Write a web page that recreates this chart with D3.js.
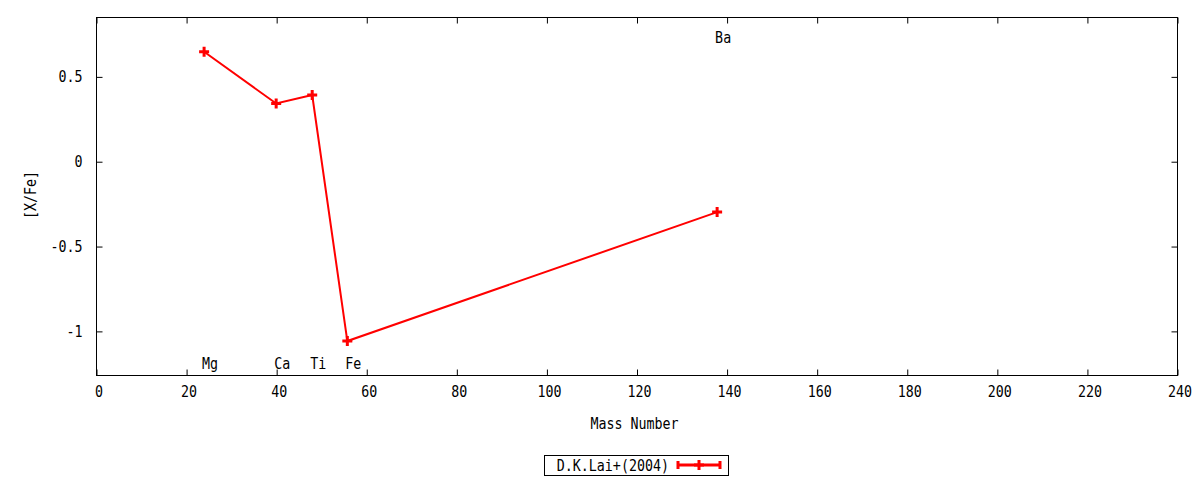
<!DOCTYPE html>
<html><head><meta charset="utf-8">
<script src="https://cdn.jsdelivr.net/npm/d3@7/dist/d3.min.js"></script>
<style>body{margin:0;background:#fff}svg{display:block}text{font-family:"DejaVu Sans Mono",monospace;font-size:15.5px;fill:#000}</style>
</head><body><svg id="c" width="1200" height="480"></svg>
<script>
const elements = ["Mg","Ca","Ti","Fe","Ba"];
const massNumbers = [24.0, 40.0, 48.0, 55.8, 137.9];
const xFe = [0.645, 0.34, 0.39, -1.06, -0.30];
const labelY = [-1.19, -1.19, -1.19, -1.19, 0.73];
const xTicks = [0,20,40,60,80,100,120,140,160,180,200,220,240];
const yTicks = [-1, -0.5, 0, 0.5];
const seriesName = "D.K.Lai+(2004)";

const svg = d3.select("#c");
const L=96,R=1177,T=17,B=375;
const x = d3.scaleLinear().domain([0,240]).range([L,R]);
const y = d3.scaleLinear().domain([-1.26,0.85]).range([B,T]);
const red="#ff0000";

svg.append("rect").attr("x",L+0.5).attr("y",T+0.5).attr("width",R-L).attr("height",B-T)
  .attr("fill","none").attr("stroke","#000").attr("stroke-width",1);

const fmt = d => d===0?"0":String(d);
const xb = svg.append("g").attr("transform",`translate(0.5,${B+0.5})`)
  .call(d3.axisBottom(x).tickValues(xTicks).tickFormat(fmt).tickSize(-6).tickPadding(11));
xb.selectAll("text").attr("x",2);
const xt = svg.append("g").attr("transform",`translate(0.5,${T+0.5})`)
  .call(d3.axisTop(x).tickValues(xTicks).tickSize(-6).tickFormat(""));
const yl = svg.append("g").attr("transform",`translate(${L+0.5},0.5)`)
  .call(d3.axisLeft(y).tickValues(yTicks).tickFormat(fmt).tickSize(-6).tickPadding(14));
const yr = svg.append("g").attr("transform",`translate(${R+0.5},0.5)`)
  .call(d3.axisRight(y).tickValues(yTicks).tickSize(-6).tickFormat(""));
[xb,xt,yl,yr].forEach(g=>{g.select(".domain").remove();g.selectAll("text").attr("font-family",null).attr("font-size",null).style("fill","#000");g.selectAll("line").attr("stroke","#000");});

svg.append("text").attr("x",(L+R)/2-2).attr("y",429).attr("text-anchor","middle").text("Mass Number");
svg.append("text").attr("transform",`translate(36,195) rotate(-90)`).attr("text-anchor","middle").text("[X/Fe]");

const pts = massNumbers.map((m,i)=>[m,xFe[i]]);
svg.append("path").datum(pts).attr("fill","none").attr("stroke",red).attr("stroke-width",2)
  .attr("d",d3.line().x(d=>x(d[0])).y(d=>y(d[1])));
const cross = (g,cx,cy)=>{
  g.append("path").attr("d",`M${cx-5},${cy}H${cx+5}M${cx},${cy-5}V${cy+5}`)
   .attr("stroke",red).attr("stroke-width",3).attr("fill","none");
};
pts.forEach(d=>cross(svg,x(d[0]),y(d[1])));

elements.forEach((e,i)=>{
  svg.append("text").attr("x",x(massNumbers[i])-2).attr("y",y(labelY[i])).attr("dy","0.35em").text(e);
});

svg.append("rect").attr("x",544.5).attr("y",455.5).attr("width",184).attr("height",20)
  .attr("fill","none").attr("stroke","#000");
svg.append("text").attr("x",669).attr("y",465.5).attr("dy","0.35em").attr("text-anchor","end").text(seriesName);
svg.append("path").attr("d","M678,465H720M678,461V469M720,461V469").attr("stroke",red).attr("stroke-width",3).attr("fill","none");
cross(svg,699,465);

// condense glyphs horizontally like the reference font
const sx = 0.86;
svg.selectAll("text").each(function(){
  const t = d3.select(this);
  const xv = +(t.attr("x")||0);
  t.attr("x", xv/sx);
  const tr = t.attr("transform")||"";
  t.attr("transform", (tr+` scale(${sx},1)`).trim());
});
</script></body></html>
